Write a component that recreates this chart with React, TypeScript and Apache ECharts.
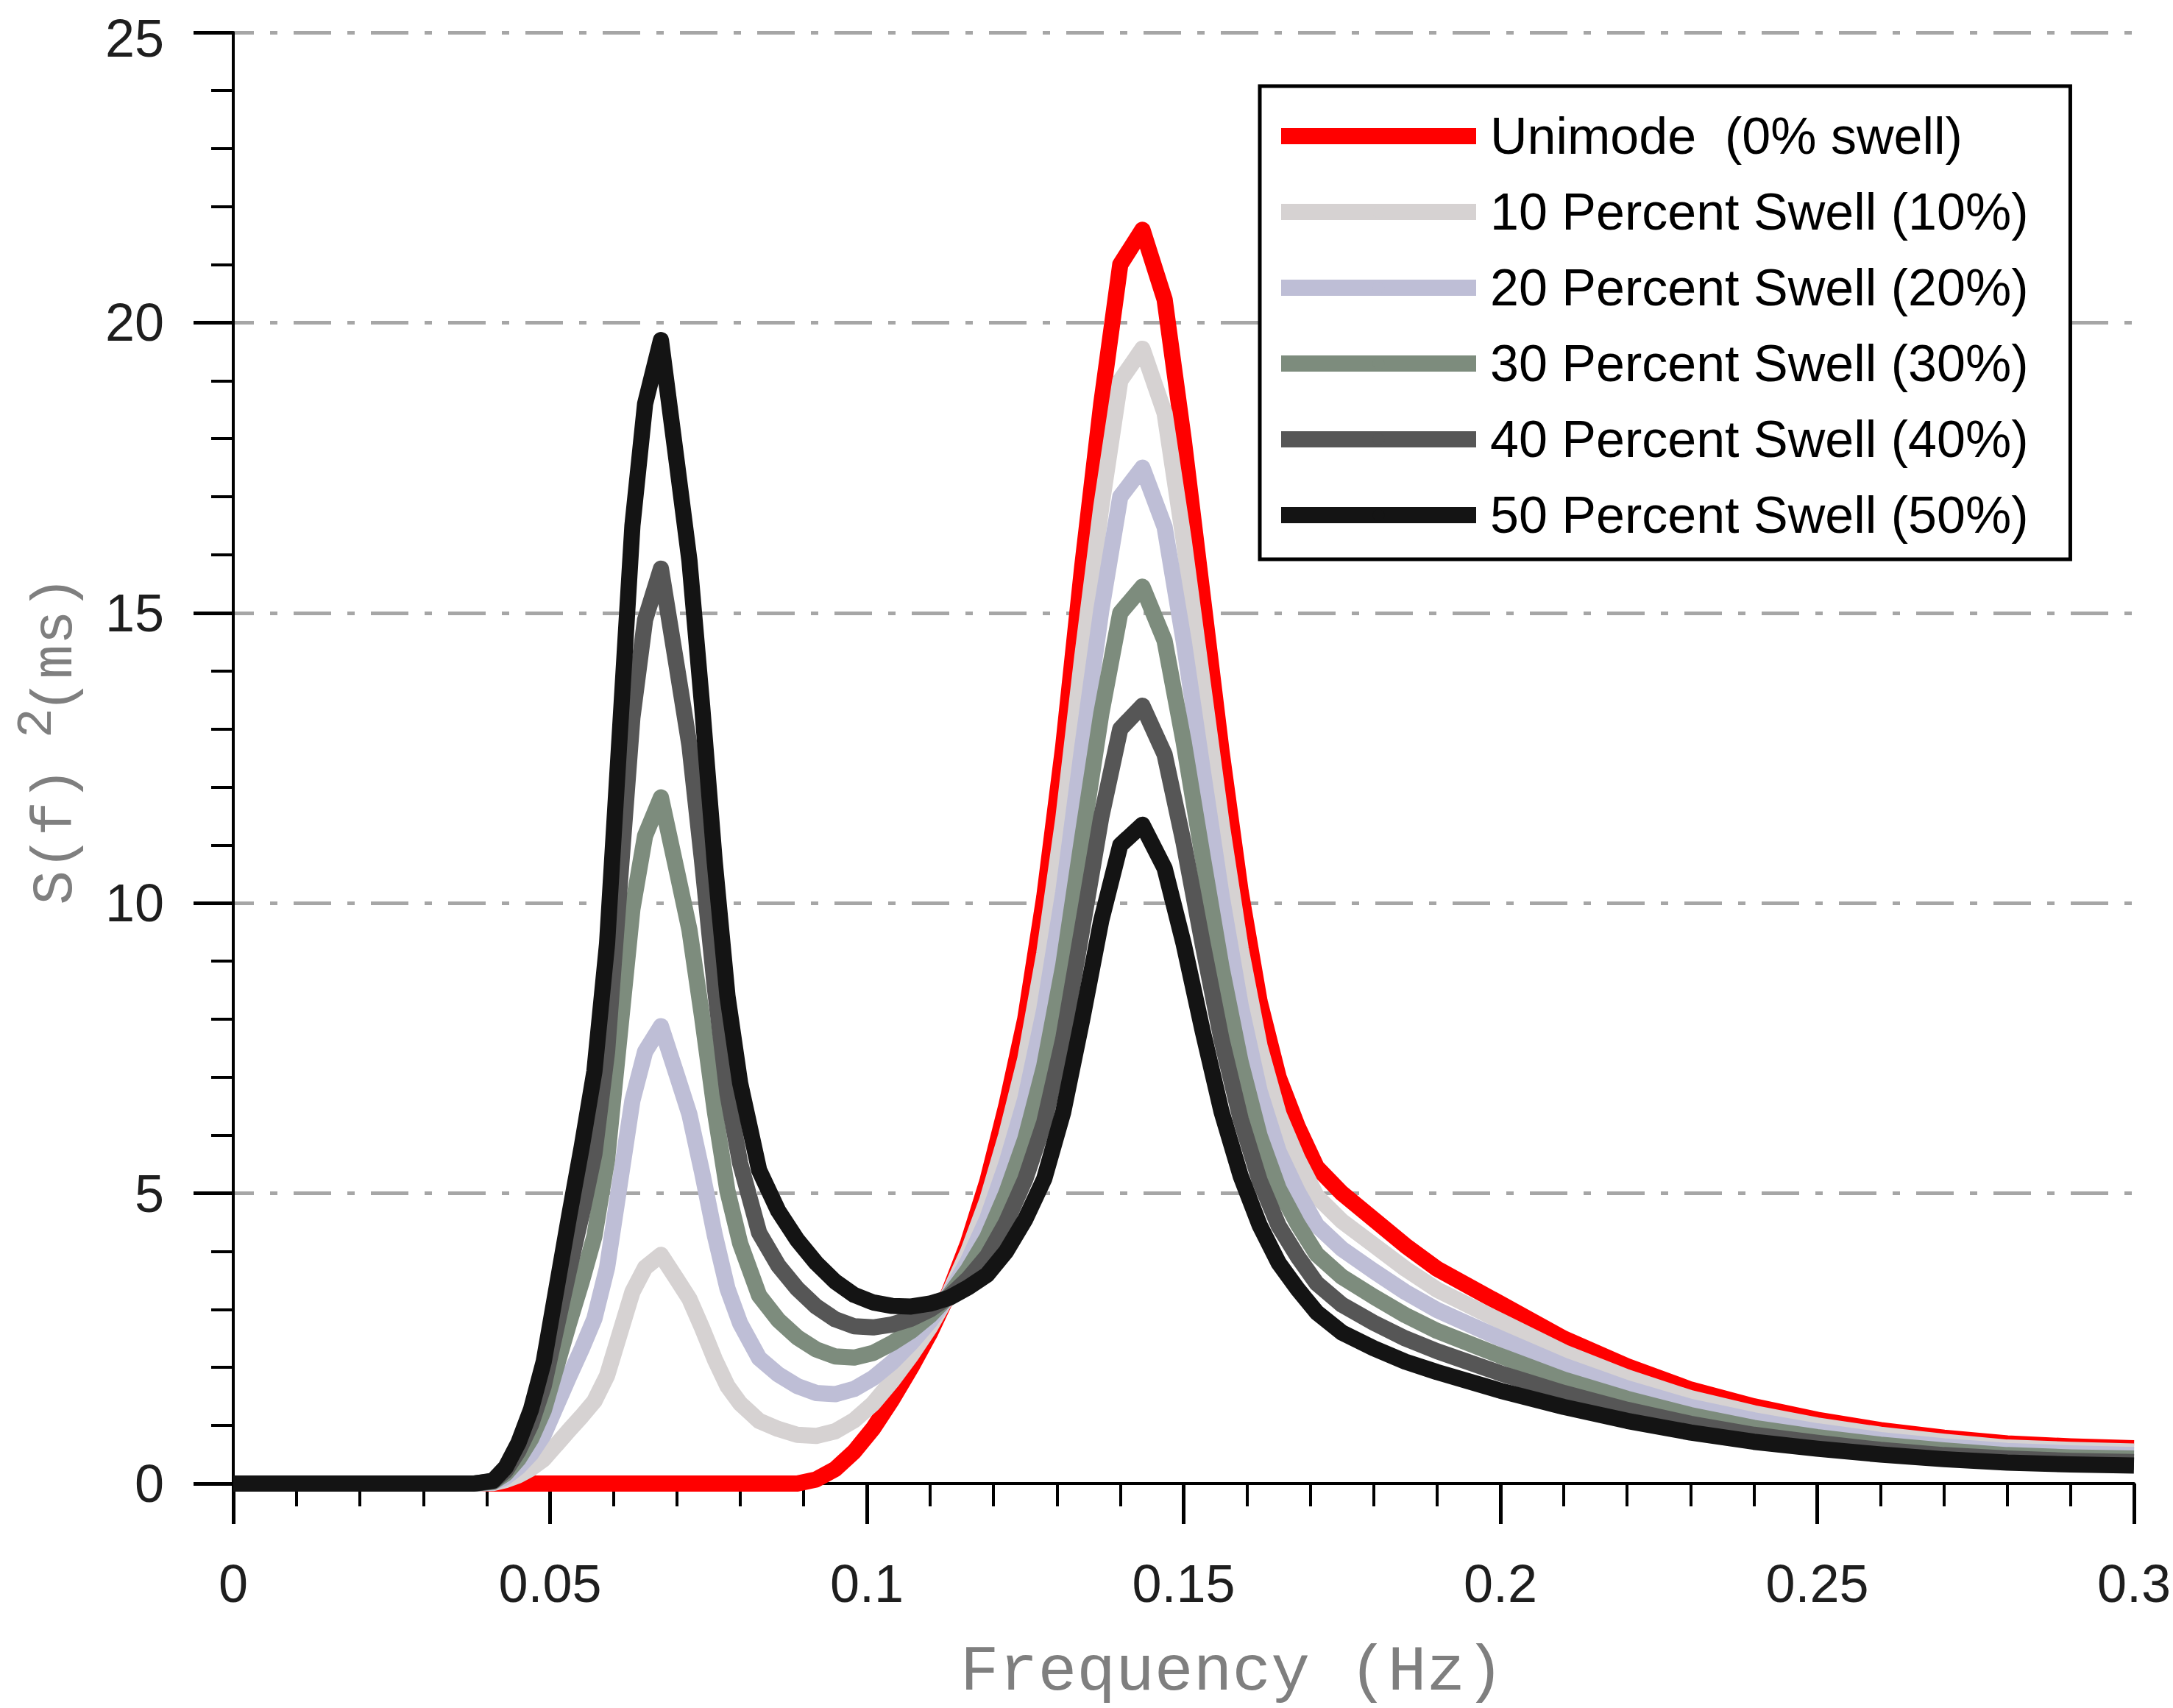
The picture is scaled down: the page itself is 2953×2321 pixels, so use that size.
import React, { useEffect, useRef } from "react";
import * as echarts from "echarts";

// Frequency grid (Hz)
const FREQ = [
  0, 0.01, 0.02, 0.03, 0.038,
  0.041, 0.043, 0.045, 0.047, 0.049,
  0.051, 0.053, 0.055, 0.057, 0.059,
  0.061, 0.063, 0.065, 0.0675, 0.07,
  0.072, 0.074, 0.076, 0.078, 0.08,
  0.083, 0.086, 0.089, 0.092, 0.095,
  0.098, 0.101, 0.104, 0.107, 0.11,
  0.113, 0.116, 0.119, 0.122, 0.125,
  0.128, 0.131, 0.134, 0.137, 0.14,
  0.1435, 0.147, 0.15, 0.153, 0.156,
  0.159, 0.162, 0.165, 0.168, 0.171,
  0.175, 0.18, 0.185, 0.19, 0.2,
  0.21, 0.22, 0.23, 0.24, 0.25,
  0.26, 0.27, 0.28, 0.29, 0.3,
];

const UNIMODE = [
  0, 0, 0, 0, 0,
  0, 0, 0, 0, 0,
  0, 0, 0, 0, 0,
  0, 0, 0, 0, 0,
  0, 0, 0, 0, 0,
  0, 0, 0, 0.07, 0.25,
  0.55, 0.95, 1.45, 2.0, 2.6,
  3.3, 4.15, 5.2, 6.5, 8.0,
  10.1, 12.7, 15.8, 18.6, 21.0,
  21.6, 20.4, 18.0, 15.3, 12.6,
  10.2, 8.3, 7.0, 6.15, 5.45,
  5.0, 4.55, 4.1, 3.7, 3.1,
  2.5, 2.02, 1.62, 1.33, 1.1,
  0.92, 0.79, 0.69, 0.64, 0.61,
];

const SWELL10 = [
  0, 0, 0, 0, 0,
  0.01, 0.06, 0.14, 0.26, 0.42,
  0.67, 0.92, 1.16, 1.42, 1.86,
  2.58, 3.3, 3.72, 3.94, 3.52,
  3.18, 2.68, 2.14, 1.68, 1.38,
  1.08, 0.94, 0.84, 0.82, 0.9,
  1.09, 1.38, 1.77, 2.21, 2.7,
  3.28, 4.0, 4.88, 6.0, 7.31,
  9.13, 11.44, 14.24, 16.82, 19.0,
  19.55, 18.44, 16.26, 13.8, 11.36,
  9.22, 7.53, 6.36, 5.59, 4.95,
  4.52, 4.11, 3.7, 3.34, 2.8,
  2.26, 1.83, 1.47, 1.21, 1.0,
  0.84, 0.72, 0.62, 0.58, 0.55,
];

const SWELL20 = [
  0, 0, 0, 0, 0,
  0.02, 0.11, 0.28, 0.51, 0.84,
  1.34, 1.84, 2.32, 2.84, 3.72,
  5.16, 6.6, 7.44, 7.88, 7.04,
  6.36, 5.36, 4.28, 3.36, 2.76,
  2.16, 1.88, 1.68, 1.56, 1.54,
  1.63, 1.82, 2.09, 2.42, 2.8,
  3.26, 3.84, 4.56, 5.5, 6.62,
  8.16, 10.18, 12.68, 15.04, 17.0,
  17.5, 16.48, 14.52, 12.3, 10.12,
  8.24, 6.76, 5.72, 5.03, 4.45,
  4.04, 3.66, 3.3, 2.99, 2.5,
  2.03, 1.64, 1.32, 1.09, 0.9,
  0.75, 0.64, 0.56, 0.52, 0.49,
];

const SWELL30 = [
  0, 0, 0, 0, 0,
  0.03, 0.17, 0.42, 0.77, 1.26,
  2.01, 2.76, 3.48, 4.26, 5.58,
  7.74, 9.9, 11.16, 11.82, 10.56,
  9.54, 8.04, 6.42, 5.04, 4.14,
  3.24, 2.82, 2.52, 2.31, 2.19,
  2.17, 2.25, 2.42, 2.63, 2.9,
  3.24, 3.69, 4.24, 5.0, 5.93,
  7.19, 8.92, 11.12, 13.26, 15.0,
  15.45, 14.52, 12.78, 10.8, 8.88,
  7.26, 5.99, 5.08, 4.47, 3.95,
  3.56, 3.22, 2.9, 2.63, 2.2,
  1.79, 1.46, 1.18, 0.96, 0.8,
  0.67, 0.57, 0.49, 0.45, 0.43,
];

const SWELL40 = [
  0, 0, 0, 0, 0,
  0.04, 0.22, 0.56, 1.02, 1.68,
  2.68, 3.68, 4.64, 5.68, 7.44,
  10.32, 13.2, 14.88, 15.76, 14.08,
  12.72, 10.72, 8.56, 6.72, 5.52,
  4.32, 3.76, 3.36, 3.05, 2.83,
  2.71, 2.69, 2.74, 2.84, 3.0,
  3.22, 3.53, 3.92, 4.5, 5.24,
  6.22, 7.66, 9.56, 11.48, 13.0,
  13.4, 12.56, 11.04, 9.3, 7.64,
  6.28, 5.22, 4.44, 3.91, 3.45,
  3.08, 2.77, 2.5, 2.28, 1.9,
  1.56, 1.27, 1.03, 0.84, 0.7,
  0.58, 0.49, 0.43, 0.39, 0.37,
];

const SWELL50 = [
  0, 0, 0, 0, 0,
  0.05, 0.28, 0.7, 1.28, 2.1,
  3.35, 4.6, 5.8, 7.1, 9.3,
  12.9, 16.5, 18.6, 19.7, 17.6,
  15.9, 13.4, 10.7, 8.4, 6.9,
  5.4, 4.7, 4.2, 3.8, 3.48,
  3.25, 3.12, 3.06, 3.05, 3.1,
  3.2, 3.38, 3.6, 4.0, 4.55,
  5.25, 6.4, 8.0, 9.7, 11.0,
  11.35, 10.6, 9.3, 7.8, 6.4,
  5.3, 4.45, 3.8, 3.35, 2.95,
  2.6, 2.33, 2.1, 1.92, 1.6,
  1.32, 1.08, 0.88, 0.72, 0.6,
  0.5, 0.42, 0.36, 0.33, 0.31,
];

const SERIES_NAMES = [
  "Unimode  (0% swell)",
  "10 Percent Swell (10%)",
  "20 Percent Swell (20%)",
  "30 Percent Swell (30%)",
  "40 Percent Swell (40%)",
  "50 Percent Swell (50%)",
];
const SERIES_VALUES = [UNIMODE, SWELL10, SWELL20, SWELL30, SWELL40, SWELL50];
const SERIES_COLORS = ["#ff0000", "#d6d2d2", "#bebed6", "#7d8c7d", "#565656", "#141414"];

const X_NAME = "Frequency (Hz)";
const Y_NAME = "{n|S(f) }{s|2}{n|(ms)}";
const Y_MAX = 25;

export default function App() {
  const ref = useRef<HTMLDivElement>(null);

  useEffect(() => {
    document.body.style.margin = "0";
    const chart = echarts.init(ref.current as HTMLDivElement, null, { renderer: "svg" });

    const series = SERIES_NAMES.map((name, k) => ({
      name,
      type: "line",
      data: FREQ.map((f, i) => [f, SERIES_VALUES[k][i]]),
      symbol: "none",
      showSymbol: false,
      clip: false,
      lineStyle: { width: 22, color: SERIES_COLORS[k], cap: "butt", join: "round" },
      itemStyle: { color: SERIES_COLORS[k] },
      emphasis: { disabled: true },
      z: 3 + k,
    }));

    const nameGray = "#7f7f7f";

    chart.setOption({
      animation: false,
      backgroundColor: "#ffffff",
      grid: { left: 317, right: 49, top: 32, bottom: 298, containLabel: false },
      xAxis: {
        type: "value",
        min: 0,
        max: 0.3,
        interval: 0.05,
        name: X_NAME,
        nameLocation: "middle",
        nameGap: 212,
        nameTextStyle: {
          fontFamily: "Liberation Mono",
          fontSize: 88,
          color: nameGray,
          padding: [0, 0, 0, 132],
        },
        axisLine: { show: true, onZero: true, lineStyle: { color: "#000", width: 4 } },
        axisTick: { show: true, length: 55, lineStyle: { color: "#000", width: 5 } },
        minorTick: { show: true, splitNumber: 5, length: 31, lineStyle: { color: "#000", width: 4 } },
        axisLabel: {
          margin: 100,
          fontFamily: "Liberation Sans",
          fontSize: 72,
          color: "#1e1e1e",
          showMinLabel: true,
          showMaxLabel: true,
          formatter: (v: number) => String(parseFloat(v.toFixed(2))),
        },
        splitLine: { show: false },
        minorSplitLine: { show: false },
      },
      yAxis: {
        type: "value",
        min: 0,
        max: Y_MAX,
        interval: 5,
        name: Y_NAME,
        nameLocation: "middle",
        nameRotate: 90,
        nameGap: 181,
        nameTextStyle: {
          fontFamily: "Liberation Mono",
          fontSize: 78,
          color: nameGray,
          padding: [0, 0, 0, 48],
          rich: {
            n: { fontFamily: "Liberation Mono", fontSize: 78, color: nameGray, lineHeight: 120 },
            s: {
              fontFamily: "Liberation Mono",
              fontSize: 68,
              color: nameGray,
              lineHeight: 40,
              verticalAlign: "top",
              width: 26,
              align: "center",
            },
          },
        },
        axisLine: { show: true, onZero: false, lineStyle: { color: "#000", width: 4 } },
        axisTick: { show: true, length: 54, lineStyle: { color: "#000", width: 5 } },
        minorTick: { show: true, splitNumber: 5, length: 30, lineStyle: { color: "#000", width: 4 } },
        axisLabel: {
          margin: 94,
          fontFamily: "Liberation Sans",
          fontSize: 72,
          lineHeight: 56,
          color: "#1e1e1e",
          formatter: (v: number) => (v === Y_MAX ? "{t|" + v + "}" : String(v)),
          rich: {
            t: {
              fontFamily: "Liberation Sans",
              fontSize: 72,
              lineHeight: 56,
              color: "#1e1e1e",
              padding: [16, 0, 0, 0],
            },
          },
        },
        splitLine: {
          show: true,
          showMinLine: false,
          lineStyle: { color: "#a6a6a6", width: 5, type: [51, 22, 10, 22], dashOffset: 23 },
        },
      },
      legend: {
        show: true,
        orient: "vertical",
        left: 1712,
        top: 117,
        itemWidth: 265,
        itemHeight: 20,
        itemGap: 23,
        padding: [28, 57, 20, 18],
        borderColor: "#000",
        borderWidth: 5,
        backgroundColor: "#ffffff",
        selectedMode: false,
        lineStyle: { width: 22, cap: "butt" },
        textStyle: {
          fontFamily: "Liberation Sans",
          fontSize: 70,
          color: "#000",
          lineHeight: 80,
          padding: [0, 0, 0, 14],
        },
        data: SERIES_NAMES,
      },
      series,
    });

    return () => chart.dispose();
  }, []);

  return <div ref={ref} style={{ width: 2953, height: 2321, background: "#ffffff" }} />;
}
